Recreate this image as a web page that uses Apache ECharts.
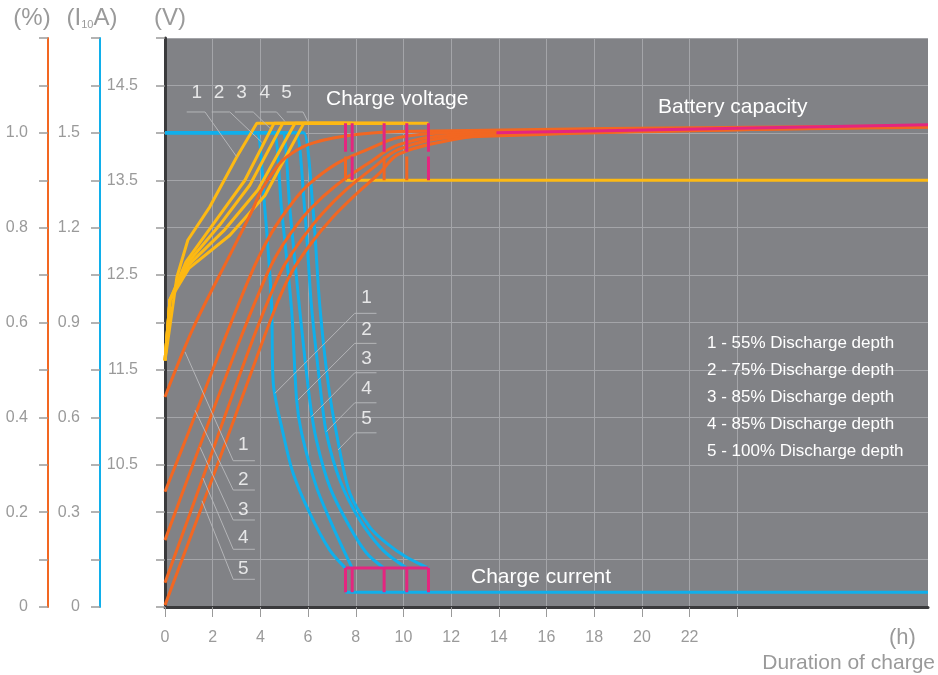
<!DOCTYPE html>
<html>
<head>
<meta charset="utf-8">
<script src="https://cdn.jsdelivr.net/npm/echarts@6/dist/echarts.min.js"></script>
<style>
  html, body { margin: 0; padding: 0; background: #fff; }
  #main { width: 938px; height: 675px; }
</style>
</head>
<body>
<div id="main"></div>
<script>
// x axis (h)
var xTicks = [0, 2, 4, 6, 8, 10, 12, 14, 16, 18, 20, 22, 24];
var xLabels = [0, 2, 4, 6, 8, 10, 12, 14, 16, 18, 20, 22];

var depthNames = ['1', '2', '3', '4', '5'];
var legendLines = [
  '1 - 55% Discharge depth',
  '2 - 75% Discharge depth',
  '3 - 85% Discharge depth',
  '4 - 85% Discharge depth',
  '5 - 100% Discharge depth'
];

// end of charge for each depth (h)
var chargeEnd = [7.57, 7.85, 9.19, 10.14, 11.05];
var chargeVoltage = 14.1;
var floatVoltage = 13.5;
var tailCurrent = 0.123;
var floatCurrent = 0.047;

// charge voltage (V)
var voltage1 = [[0, 11.6], [0.5, 12.48], [0.96, 12.87], [1.88, 13.22], [3.02, 13.75], [3.85, 14.1], [7.57, 14.1]];
var voltage2 = [[0, 11.6], [0.21, 12.24], [0.88, 12.64], [2.09, 13.06], [3.35, 13.5], [4.57, 14.1], [7.85, 14.1]];
var voltage3 = [[0, 11.6], [0.21, 12.24], [0.92, 12.62], [2.3, 13.03], [3.56, 13.45], [4.94, 14.1], [9.19, 14.1]];
var voltage4 = [[0, 11.6], [0.21, 12.24], [0.96, 12.6], [2.51, 12.98], [3.9, 13.4], [5.45, 14.1], [10.14, 14.1]];
var voltage5 = [[0, 11.6], [0.21, 12.24], [1.0, 12.57], [2.72, 12.92], [4.19, 13.34], [5.82, 14.1], [11.05, 14.1]];

// charge current (I10 A)
var current1 = [[0, 1.5], [3.6, 1.5], [3.85, 1.5], [4.19, 1.256], [4.47, 0.955], [4.54, 0.709], [4.95, 0.55], [5.37, 0.424], [6.07, 0.297], [6.91, 0.18], [7.57, 0.123]];
var current2 = [[0, 1.5], [4.3, 1.5], [4.57, 1.5], [4.89, 1.256], [5.31, 0.94], [5.52, 0.655], [5.73, 0.55], [6.35, 0.38], [7.05, 0.253], [7.85, 0.123]];
var current3 = [[0, 1.5], [4.7, 1.5], [4.94, 1.5], [5.24, 1.256], [5.65, 0.94], [6.07, 0.655], [6.35, 0.528], [6.91, 0.38], [7.75, 0.253], [8.45, 0.171], [9.19, 0.123]];
var current4 = [[0, 1.5], [5.2, 1.5], [5.49, 1.5], [5.86, 1.256], [6.14, 0.955], [6.49, 0.709], [6.77, 0.55], [7.33, 0.402], [8.17, 0.275], [9.14, 0.18], [10.14, 0.123]];
var current5 = [[0, 1.5], [5.55, 1.5], [5.82, 1.5], [6.21, 1.256], [6.49, 0.955], [6.84, 0.709], [7.19, 0.55], [7.75, 0.361], [8.59, 0.253], [9.29, 0.202], [10.12, 0.158], [11.05, 0.123]];

// battery capacity (fraction)
var capacity1 = [[0, 0.443], [1.2, 0.59], [2.8, 0.75], [3.6, 0.83], [4.0, 0.875], [4.5, 0.915], [5.0, 0.945], [6.0, 0.975], [7.5, 0.993], [9.8, 1.003], [32, 1.015]];
var capacity2 = [[0, 0.243], [1.0, 0.37], [2.5, 0.565], [3.5, 0.69], [4.0, 0.745], [4.6, 0.8], [5.3, 0.85], [6.0, 0.89], [7.2, 0.935], [8.5, 0.965], [9.8, 0.99], [12, 1.0], [32, 1.015]];
var capacity3 = [[0, 0.141], [1.5, 0.345], [3.0, 0.545], [4.0, 0.67], [4.6, 0.735], [5.3, 0.79], [6.1, 0.84], [7.2, 0.89], [8.5, 0.935], [9.8, 0.975], [12, 0.995], [32, 1.014]];
var capacity4 = [[0, 0.051], [2.0, 0.33], [3.5, 0.54], [4.4, 0.655], [5.0, 0.72], [5.8, 0.78], [6.6, 0.83], [7.6, 0.88], [8.7, 0.925], [9.8, 0.965], [12, 0.99], [32, 1.013]];
var capacity5 = [[0, 0.004], [2.2, 0.3], [3.8, 0.52], [4.7, 0.64], [5.3, 0.705], [6.1, 0.765], [7.0, 0.82], [8.0, 0.87], [9.0, 0.915], [9.8, 0.955], [12, 0.985], [14, 0.997], [32, 1.012]];
var capacityLine = [[13.9, 1.0], [32, 1.017]];

// callout numbers and leader lines, in data units of their axis
var voltNotes = [[1.33, 14.42], [2.27, 14.42], [3.21, 14.42], [4.19, 14.42], [5.1, 14.42]];
var voltLeaders = [
  [[0.91, 14.22], [1.68, 14.22], [3.0, 13.75]],
  [[1.96, 14.22], [2.72, 14.22], [4.06, 13.9]],
  [[2.93, 14.22], [3.7, 14.22], [4.4, 14.05]],
  [[3.98, 14.22], [4.68, 14.22], [5.03, 14.12]],
  [[5.1, 14.22], [5.79, 14.22], [5.99, 14.12]]
];
var currentNotes = [[8.45, 0.977], [8.45, 0.876], [8.45, 0.785], [8.45, 0.69], [8.45, 0.595]];
var currentLeaders = [
  [[8.87, 0.929], [7.96, 0.929], [4.61, 0.676]],
  [[8.87, 0.834], [7.96, 0.834], [5.58, 0.655]],
  [[8.87, 0.741], [7.96, 0.741], [6.14, 0.602]],
  [[8.87, 0.646], [7.96, 0.646], [6.77, 0.555]],
  [[8.87, 0.551], [7.96, 0.551], [7.26, 0.497]]
];
var capacityNotes = [[3.28, 0.342], [3.28, 0.268], [3.28, 0.205], [3.28, 0.146], [3.28, 0.08]];
var capacityLeaders = [
  [[3.77, 0.3085], [2.86, 0.3085], [0.84, 0.538]],
  [[3.77, 0.2467], [2.86, 0.2467], [1.26, 0.415]],
  [[3.77, 0.1835], [2.86, 0.1835], [1.47, 0.337]],
  [[3.77, 0.1217], [2.86, 0.1217], [1.59, 0.272]],
  [[3.77, 0.0584], [2.86, 0.0584], [1.55, 0.224]]
];

var font = '"Liberation Sans", Arial, sans-serif';
var yellow = '#fdb913';
var orange = '#f26722';
var blue = '#10afeb';
var pink = '#e4267f';
var grey = '#9a9a9a';
var gridGrey = '#a4a5a9';
var leaderGrey = '#b4b5b8';

var series = [];

function addLine(data, axis, color, width, smooth, z) {
  series.push({
    type: 'line',
    yAxisIndex: axis,
    data: data,
    symbol: 'none',
    smooth: smooth,
    silent: true,
    z: z,
    lineStyle: { color: color, width: width }
  });
}

function addNotes(points, leaders, axis) {
  leaders.forEach(function (l) {
    addLine(l, axis, leaderGrey, 1, false, 5);
  });
  series.push({
    type: 'scatter',
    yAxisIndex: axis,
    symbolSize: 1,
    silent: true,
    z: 6,
    itemStyle: { color: 'transparent' },
    data: points.map(function (p, i) { return { value: p, name: depthNames[i] }; }),
    label: { show: true, position: 'inside', formatter: '{b}', color: '#fff', fontSize: 19, fontFamily: font }
  });
}

// current
[current1, current2, current3, current4, current5].forEach(function (d) {
  addLine(d, 1, blue, 3, 0.3, 2);
});
addLine([[chargeEnd[0], floatCurrent], [32, floatCurrent]], 1, blue, 3, false, 2);

// voltage
[voltage1, voltage2, voltage3, voltage4, voltage5].forEach(function (d) {
  addLine(d, 0, yellow, 3, false, 3);
});
addLine([[chargeEnd[0], floatVoltage], [32, floatVoltage]], 0, yellow, 3, false, 3);

// capacity
[capacity1, capacity2, capacity3, capacity4, capacity5].forEach(function (d) {
  addLine(d, 2, orange, 3, 0.35, 4);
});
addLine(capacityLine, 2, pink, 3, false, 4);

// end-of-charge markers
var lowerColors = [orange, pink, orange, orange, pink];
chargeEnd.forEach(function (h, i) {
  addLine([[h, chargeVoltage], [h, 13.8]], 0, pink, 3, false, 4);
  addLine([[h, 13.75], [h, floatVoltage]], 0, lowerColors[i], 3, false, 4);
  addLine([[h, tailCurrent], [h, floatCurrent]], 1, pink, 3, false, 4);
});
addLine([[chargeEnd[0], tailCurrent], [chargeEnd[4], tailCurrent]], 1, pink, 3, false, 4);

addNotes(voltNotes, voltLeaders, 0);
addNotes(currentNotes, currentLeaders, 1);
addNotes(capacityNotes, capacityLeaders, 2);

function sideAxis(offset, min, max, interval, color, name, namePadding, margin, formatter) {
  return {
    type: 'value',
    position: 'left',
    offset: offset,
    min: min,
    max: max,
    interval: interval,
    name: name,
    nameLocation: 'end',
    nameGap: 8,
    nameTextStyle: {
      color: grey, fontSize: 24, fontFamily: font, padding: namePadding,
      rich: {
        a: { color: grey, fontSize: 24, fontFamily: font },
        s: { color: grey, fontSize: 11, fontFamily: font, verticalAlign: 'bottom', padding: [10, 0, 0, 0] }
      }
    },
    axisLine: { show: true, lineStyle: { color: color, width: 2 } },
    axisTick: { show: true, length: 9, lineStyle: { color: grey, width: 1.5 } },
    axisLabel: { margin: margin, color: grey, fontSize: 16, fontFamily: font, formatter: formatter },
    splitLine: { show: false }
  };
}

var option = {
  animation: false,
  backgroundColor: '#fff',
  grid: {
    left: 165, right: 10, top: 38, bottom: 68,
    show: true, backgroundColor: '#818286', borderWidth: 0
  },
  xAxis: {
    type: 'value',
    min: 0,
    max: 32,
    interval: 2,
    name: '(h)',
    nameLocation: 'end',
    nameGap: -39,
    nameTextStyle: { color: grey, fontSize: 22, fontFamily: font, verticalAlign: 'top', padding: [20, 0, 0, 0] },
    axisLine: { show: true, onZero: false, lineStyle: { color: '#3a3a3c', width: 3 } },
    axisTick: { show: true, customValues: xTicks, length: 10, lineStyle: { color: grey, width: 1 } },
    axisLabel: { customValues: xLabels, margin: 23, color: grey, fontSize: 16, fontFamily: font },
    splitLine: { show: true, lineStyle: { color: gridGrey, width: 1 } }
  },
  yAxis: [
    (function () {
      var a = sideAxis(10, 9, 15, 0.5, yellow, '(V)', [0, 0, 0, 10], 17, function (v) {
        var r = v - 0.5;
        return (v > 10 && v < 15 && Math.abs(r - Math.round(r)) < 1e-6) ? v.toFixed(1) : '';
      });
      a.splitLine = { show: true, lineStyle: { color: gridGrey, width: 1 } };
      return a;
    })(),
    sideAxis(65, 0, 1.8, 0.15, blue, '{a|(I}{s|10}{a|A)}', [0, 16, 0, 0], 20, function (v) {
      var k = Math.round(v / 0.15);
      if (k % 2 !== 0 || k > 10) return '';
      return k === 0 ? '0' : (k * 0.15).toFixed(1);
    }),
    sideAxis(117, 0, 1.2, 0.1, orange, '(%)', [0, 32, 0, 0], 20, function (v) {
      var k = Math.round(v / 0.1);
      if (k % 2 !== 0 || k > 10) return '';
      return k === 0 ? '0' : (k * 0.1).toFixed(1);
    }),
    {
      type: 'value', position: 'left', offset: 0, min: 0, max: 1,
      axisLine: { show: true, lineStyle: { color: '#3a3a3c', width: 3 } },
      axisTick: { show: false }, axisLabel: { show: false }, splitLine: { show: false }
    }
  ],
  graphic: [
    { type: 'text', x: 326, y: 99, z: 10, style: { text: 'Charge voltage', fill: '#fff', font: '21px ' + font, textVerticalAlign: 'middle' } },
    { type: 'text', x: 658, y: 107, z: 10, style: { text: 'Battery capacity', fill: '#fff', font: '21px ' + font, textVerticalAlign: 'middle' } },
    { type: 'text', x: 471, y: 577, z: 10, style: { text: 'Charge current', fill: '#fff', font: '21px ' + font, textVerticalAlign: 'middle' } },
    { type: 'text', x: 935, y: 663, z: 10, style: { text: 'Duration of charge', fill: grey, font: '21px ' + font, textAlign: 'right', textVerticalAlign: 'middle' } }
  ].concat(legendLines.map(function (t, i) {
    return { type: 'text', x: 707, y: 343 + i * 27, z: 10, style: { text: t, fill: '#fff', font: '17px ' + font, textVerticalAlign: 'middle' } };
  })),
  series: series
};

var chart = echarts.init(document.getElementById('main'));
chart.setOption(option);
</script>
</body>
</html>
